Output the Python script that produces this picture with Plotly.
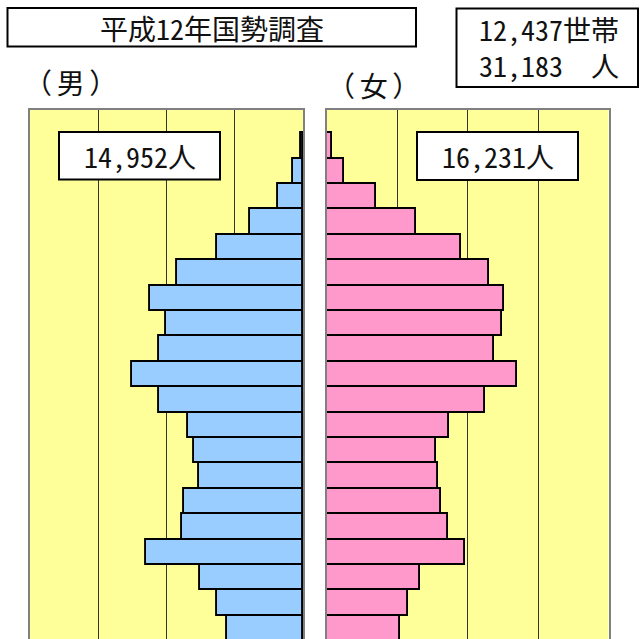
import plotly.graph_objects as go

# Age groups, youngest first (bottom of the pyramid)
ages = ["0-4", "5-9", "10-14", "15-19", "20-24", "25-29", "30-34", "35-39",
        "40-44", "45-49", "50-54", "55-59", "60-64", "65-69", "70-74",
        "75-79", "80-84", "85-89", "90-94", "95-"]

male = [554, 632, 755, 1150, 886, 870, 762, 799, 842, 1057,
        1255, 1055, 1006, 1121, 921, 628, 388, 181, 75, 15]
female = [519, 579, 659, 980, 858, 807, 792, 775, 868, 1124,
          1350, 1186, 1242, 1257, 1152, 951, 629, 346, 119, 38]

title_text = "平成12年国勢調査"
summary_text = "12,437世帯<br>31,183\u3000人"
male_label = "（\u2006男\u2006）"
female_label = "（\u2006女\u2006）"
male_total_text = "14,952人"
female_total_text = "16,231人"

W, H = 640, 639
FONT = "Noto Sans Mono CJK JP, Noto Sans CJK JP, sans-serif"
YELLOW = "#FFFF99"
BORDER = "#808080"
GRID = "#333333"


def px(x):
    return x / W


def py(y):
    return 1 - y / H


panel_top = py(110)
y_range = [-0.41, 20.417]

fig = go.Figure()
fig.add_trace(go.Bar(
    x=male, y=ages, orientation="h", xaxis="x", yaxis="y",
    marker=dict(color="#99CCFF", line=dict(color="black", width=1.9)),
    showlegend=False, hoverinfo="x+y"))
fig.add_trace(go.Bar(
    x=female, y=ages, orientation="h", xaxis="x2", yaxis="y2",
    marker=dict(color="#FF99CC", line=dict(color="black", width=1.9)),
    showlegend=False, hoverinfo="x+y"))

xcommon = dict(showline=True, linecolor=BORDER, linewidth=2, side="top",
               showticklabels=False, ticks="", showgrid=True, gridcolor=GRID,
               gridwidth=1, tick0=0, dtick=500, zeroline=False,
               layer="below traces", fixedrange=True)
ycommon = dict(showline=True, mirror=True, linecolor=BORDER, linewidth=2,
               showticklabels=False, ticks="", showgrid=False, zeroline=False,
               type="category", categoryorder="array", categoryarray=ages,
               range=y_range, domain=[0, panel_top], layer="below traces",
               fixedrange=True)

fig.update_layout(
    width=W, height=H,
    margin=dict(l=0, r=0, t=0, b=0),
    paper_bgcolor="white",
    plot_bgcolor=YELLOW,
    bargap=0,
    xaxis=dict(xcommon, domain=[px(30), px(303)], range=[2000, 0], anchor="y"),
    yaxis=dict(ycommon, anchor="x"),
    xaxis2=dict(xcommon, domain=[px(327), px(608.5)], range=[0, 2000], anchor="y2"),
    yaxis2=dict(ycommon, anchor="x2"),
)

# Framed text boxes
boxes = [
    (7.5, 8, 416, 46.5),     # survey title
    (456.5, 8.5, 638, 87),   # households / population
    (59, 132, 220, 179.5),   # male total
    (417, 132, 578, 180),    # female total
]
for x0, y0, x1, y1 in boxes:
    fig.add_shape(type="rect", xref="paper", yref="paper",
                  x0=px(x0), x1=px(x1), y0=py(y1), y1=py(y0),
                  line=dict(color="black", width=2), fillcolor="white",
                  layer="above")

texts = [
    (title_text, 212, 28.5, 28),
    (summary_text, 549, 47.5, 28),
    (male_label, 70, 82, 28),
    (female_label, 373, 85, 28),
    (male_total_text, 139.5, 156, 28),
    (female_total_text, 498, 156, 28),
]
for t, x, y, s in texts:
    fig.add_annotation(text=t, xref="paper", yref="paper", x=px(x), y=py(y),
                       xanchor="center", yanchor="middle", align="center",
                       showarrow=False,
                       font=dict(family=FONT, size=s, color="#111111"))

fig.write_html("out.html")
